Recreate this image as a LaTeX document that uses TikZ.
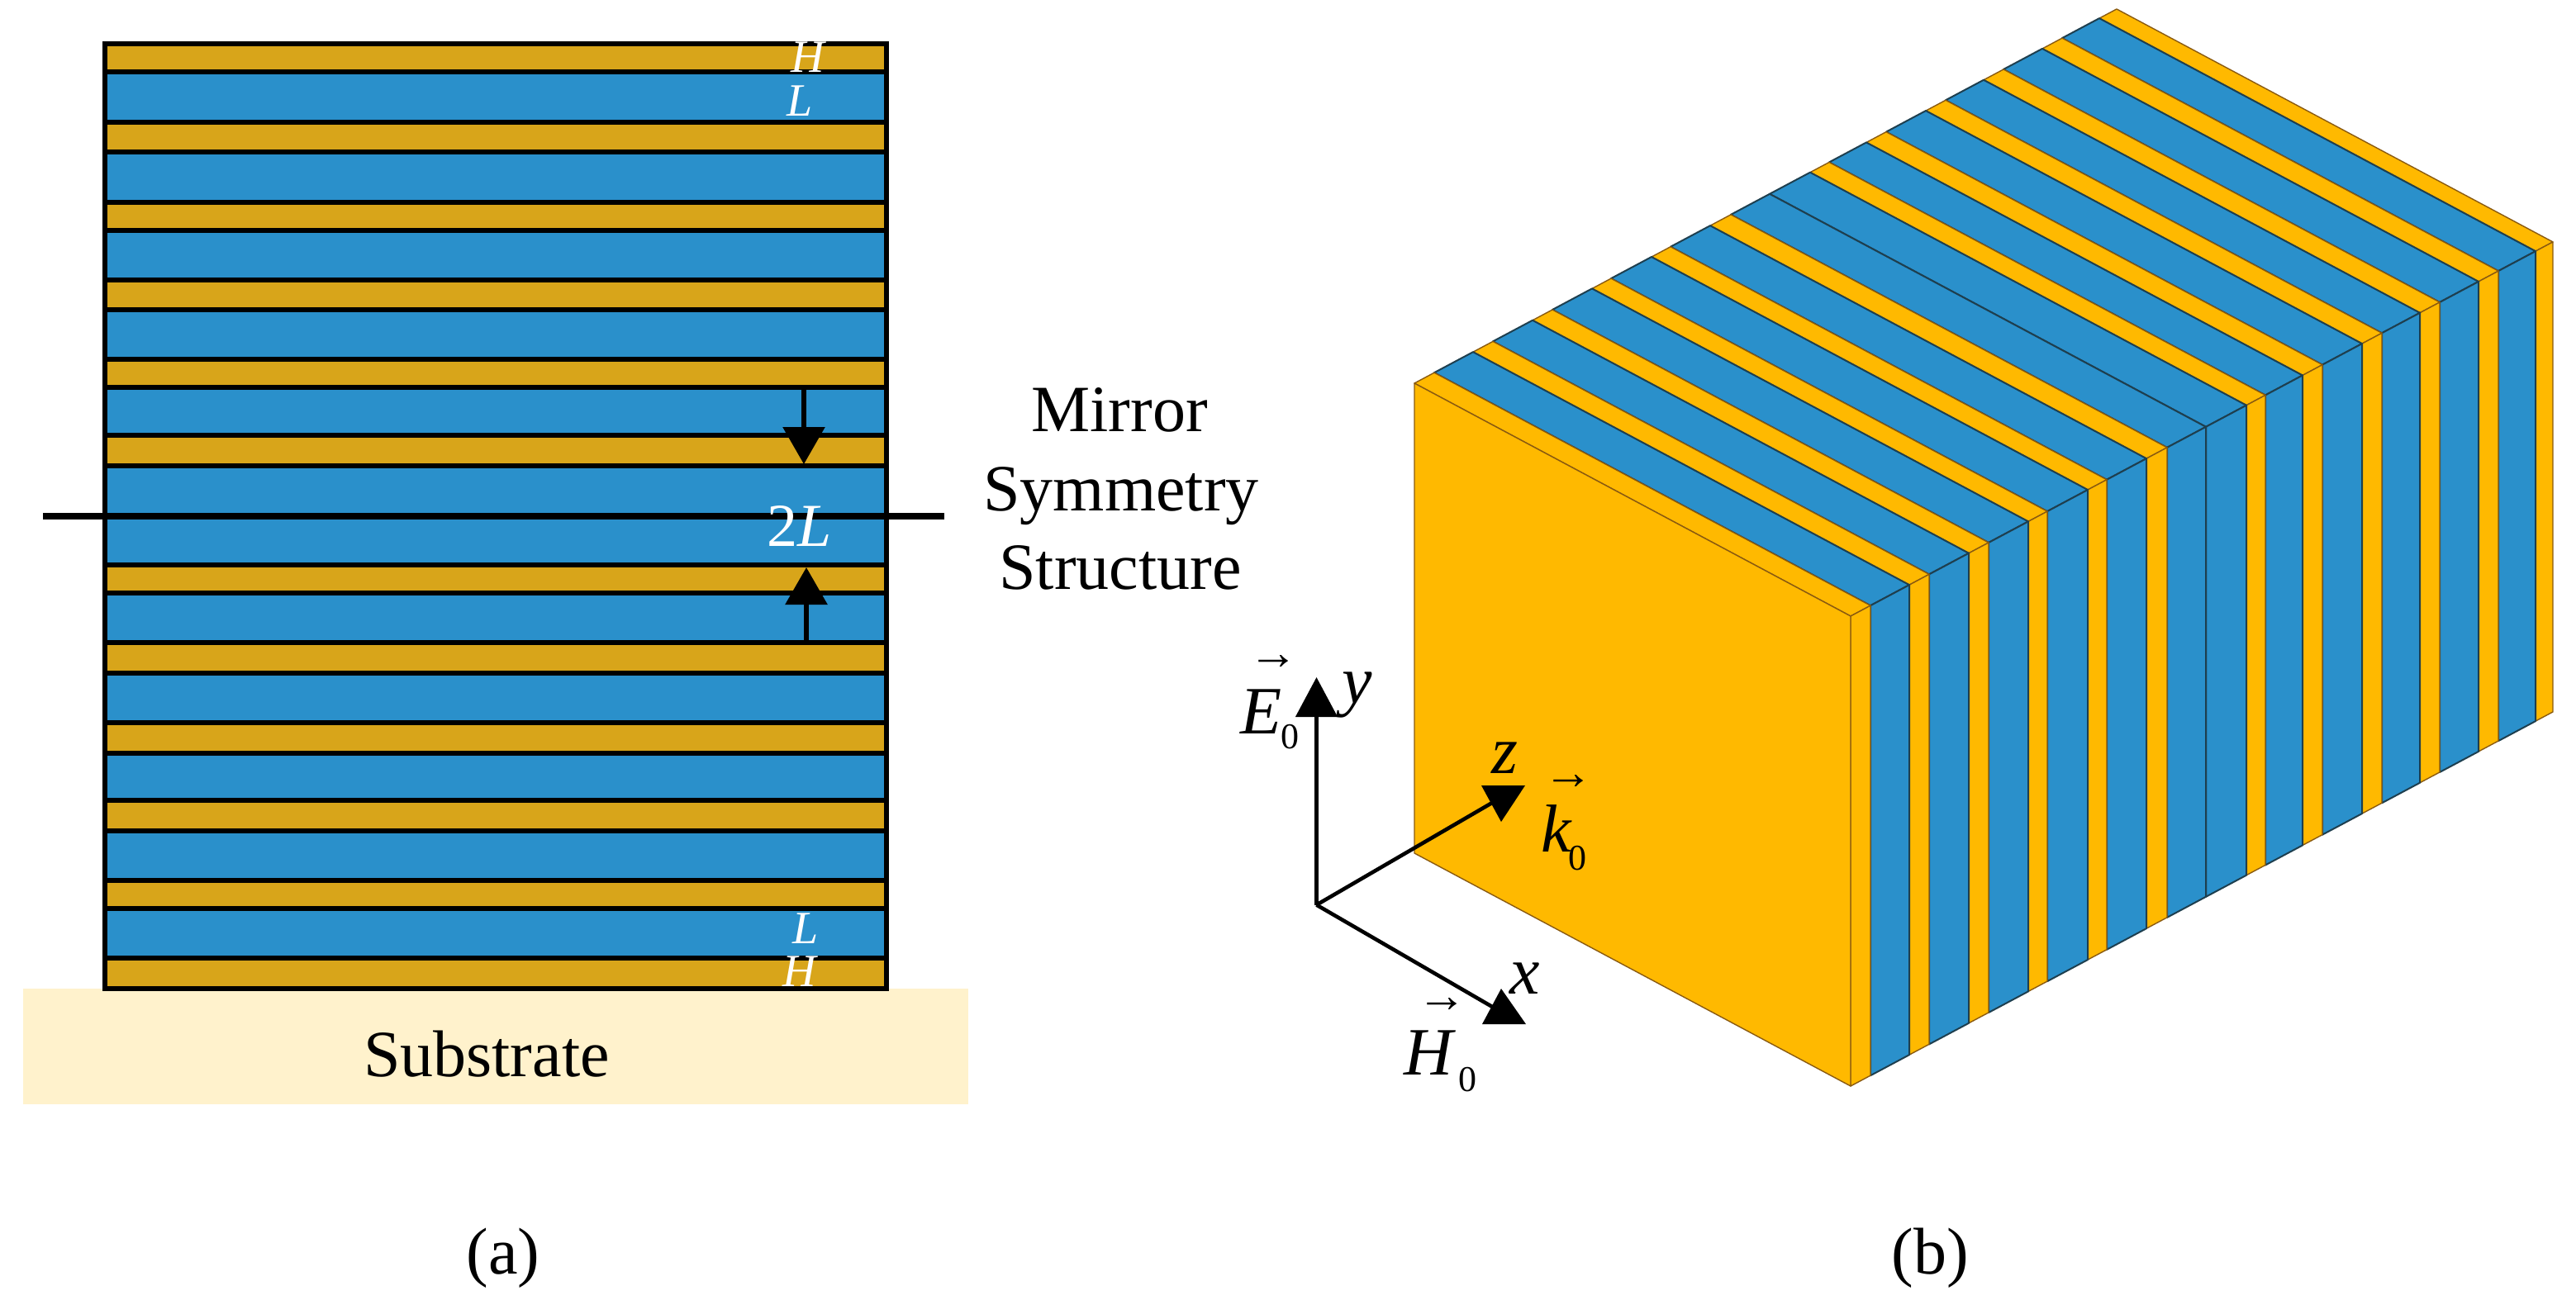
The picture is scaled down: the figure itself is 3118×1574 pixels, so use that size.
\documentclass[tikz,border=0pt]{standalone}
\usepackage{fontspec}
\setmainfont{Liberation Serif}
\usetikzlibrary{arrows.meta}
\definecolor{gold}{HTML}{D8A51A}
\definecolor{sky}{HTML}{2A90CB}
\definecolor{amber}{HTML}{FFB900}
\definecolor{cream}{HTML}{FFF2CC}
\definecolor{rim}{HTML}{8A5A10}
\definecolor{deep}{HTML}{1E3F4F}

\begin{document}
\begin{tikzpicture}[x=0.5pt,y=-0.5pt,
  hlayer/.style={fill=gold,draw=black,line width=2.65pt},
  llayer/.style={fill=sky,draw=black,line width=2.65pt},
  hslab/.style={fill=amber,draw=rim,line width=0.7pt,line join=round},
  lslab/.style={fill=sky,draw=deep,line width=1pt,line join=round},
  big text/.style={font=\fontsize{40}{48}\selectfont,anchor=base,inner sep=0pt},
  tag text/.style={font=\fontsize{28}{32}\selectfont\itshape,text=white,anchor=base,inner sep=0pt},
  sym text/.style={font=\fontsize{41}{48}\selectfont\itshape,anchor=base,inner sep=0pt},
  sub text/.style={font=\fontsize{22}{26}\selectfont,anchor=center,inner sep=0pt},
  vec text/.style={font=\fontsize{30}{32}\selectfont,anchor=center,inner sep=0pt},
  dim arrow/.style={line width=3pt,-{Triangle[length=22.5pt,width=25pt]}},
  axis arrow/.style={line width=2.3pt}]

  \useasboundingbox (0,0) rectangle (3118,1574);

  % left stack
  \node[fill=cream,minimum width=572pt,minimum height=70pt,inner sep=0pt] (substrate) at (600,1267) {};
  \foreach \ytop/\ybot/\kind in {53/87/hlayer,87/148/llayer,148/184/hlayer,184/245/llayer,
      245/279/hlayer,279/339/llayer,339/375/hlayer,375/435/llayer,435/469/hlayer,469/527/llayer,
      527/564/hlayer,564/625/llayer,625/684/llayer,684/718/hlayer,718/778/llayer,778/815/hlayer,
      815/875/llayer,875/912/hlayer,912/969/llayer,969/1006/hlayer,1006/1066/llayer,
      1066/1100/hlayer,1100/1160/llayer,1160/1197/hlayer}
    \draw[\kind] (127,\ytop) rectangle (1073,\ybot);

  \coordinate (mirrorL) at (52,625);
  \coordinate (mirrorR) at (1143,625);
  \draw[line width=3.6pt] (mirrorL) -- (mirrorR);

  \coordinate (dimTopA) at (973,469);
  \coordinate (dimTopB) at (973,562);
  \coordinate (dimBotA) at (976,778);
  \coordinate (dimBotB) at (976,687);
  \draw[dim arrow] (dimTopA) -- (dimTopB);
  \draw[dim arrow] (dimBotA) -- (dimBotB);

  \node[tag text] (topH) at (978,87) {H};
  \node[tag text] (topL) at (968,140) {L};
  \node[tag text] (botL) at (975,1142) {L};
  \node[tag text] (botH) at (968,1194) {H};
  \node[big text,text=white,font=\fontsize{37}{40}\selectfont] (twoL) at (968,661) {2\textit{L}};
  \node[big text] (subLabel) at (589,1303) {Substrate};
  \node[big text] (mirrorA) at (1355,522) {Mirror};
  \node[big text] (mirrorB) at (1357,618) {Symmetry};
  \node[big text] (mirrorC) at (1356,713) {Structure};
  \node[big text] (capA) at (609,1542) {(a)};
  \node[big text] (capB) at (2336,1542) {(b)};

  % right block, far slab first
  \foreach \a/\b/\kind in {829/850/hslab,784/829/lslab,760/784/hslab,713/760/lslab,689/713/hslab,
      643/689/lslab,619/643/hslab,571/619/lslab,547/571/hslab,502/547/lslab,479/502/hslab,
      430/479/lslab,383/430/lslab,358/383/hslab,310/358/lslab,287/310/hslab,238/287/lslab,
      215/238/hslab,167/215/lslab,143/167/hslab,95/143/lslab,71/95/hslab,24/71/lslab,0/24/hslab}
  {
    \pgfmathsetmacro\xa{2240+\a}
    \pgfmathsetmacro\xb{2240+\b}
    \pgfmathsetmacro\ya{746-0.533*\a}
    \pgfmathsetmacro\yb{746-0.533*\b}
    \draw[\kind] (\xa,\ya) -- (\xb,\yb) -- ++(-528,-282) -- ++(\a-\b,0.533*\b-0.533*\a) -- cycle;
    \draw[\kind] (\xa,\ya) -- (\xb,\yb) -- ++(0,569) -- ++(\a-\b,0.533*\b-0.533*\a) -- cycle;
  }
  \draw[hslab] (1712,464) -- (2240,746) -- (2240,1315) -- (1712,1033) -- cycle;

  % axes
  \coordinate (origin) at (1593.5,1095.6);
  \coordinate (ytip) at (1593.5,820);
  \coordinate (zend) at (1806,972);
  \coordinate (xend) at (1808,1220);
  \draw[axis arrow,-{Triangle[length=24pt,width=25pt]}] (origin) -- (ytip);
  \draw[axis arrow] (origin) -- (zend);
  \draw[axis arrow] (origin) -- (xend);
  \fill (1793,951) -- (1846,951) -- (1817,995) -- cycle;
  \fill (1794,1240) -- (1847,1240) -- (1817,1197) -- cycle;

  \node[sym text] (ylabel) at (1643,851) {y};
  \node[sym text] (zlabel) at (1821,936) {z};
  \node[sym text] (xlabel) at (1846,1203) {x};

  \node[sym text] (Elabel) at (1527,888) {E};
  \node[sub text] (Esub) at (1561,892) {0};
  \node[vec text] (Evec) at (1541,802) {→};
  \node[sym text] (klabel) at (1884,1031) {k};
  \node[sub text] (ksub) at (1909,1039) {0};
  \node[vec text] (kvec) at (1898,947) {→};
  \node[sym text] (Hlabel) at (1729,1301) {H};
  \node[sub text] (Hsub) at (1776,1307) {0};
  \node[vec text] (Hvec) at (1745,1217) {→};
\end{tikzpicture}
\end{document}
